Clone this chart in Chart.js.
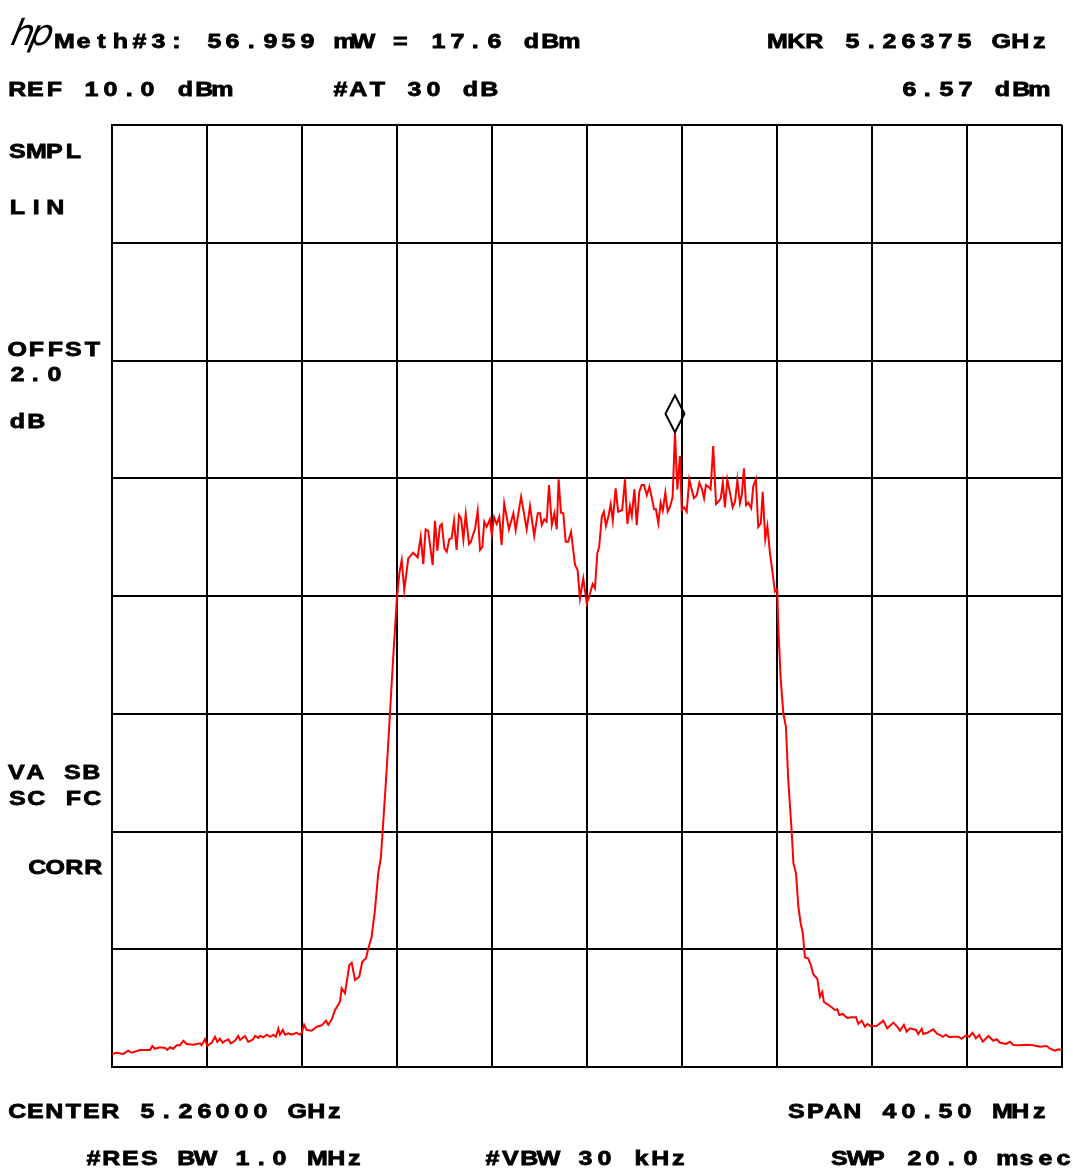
<!DOCTYPE html>
<html>
<head>
<meta charset="utf-8">
<script src="https://cdn.jsdelivr.net/npm/chart.js@4.4.1/dist/chart.umd.min.js"></script>
<style>
  body { margin: 0; background: #fff; }
  #wrap { position: relative; width: 1073px; height: 1169px; overflow: hidden; }
  #chart { position: absolute; left: 0; top: 0; }
  .lbl { position: absolute; font: bold 20px "Liberation Sans", Arial, sans-serif; line-height: 20px;
         color: #000; white-space: pre; -webkit-text-stroke: 0.8px #000; }
  .lbl span { display: inline-block; width: 18.7px; text-align: center; transform: scaleX(1.25); }
  #logo { position: absolute; left: 12px; top: 16px; font: italic 200 36px "DejaVu Sans", sans-serif;
          line-height: 34px; letter-spacing: -4px; color: #000; transform: skewX(-12deg); }
</style>
</head>
<body>
<div id="wrap">
  <canvas id="chart" width="1073" height="1169"></canvas>
  <div id="logo">hp</div>
</div>
<script>
// analyzer settings (from the screen annotations)
const refDbm = 10.0;
const centerMHz = 5260.0;
const spanMHz = 40.5;
const markerMHz = 5263.75;
const markerDbm = 6.57;
const xDivs = 10;
const yDivs = 8;

// trace: frequency offset from center (MHz) and level (mV, LIN scale)
const offsetMHz = [
  -20.25,-20.05,-19.77,-19.56,-19.41,-19.06,-18.63,-18.53,-18.42,-18.20,
  -17.99,-17.89,-17.78,-17.64,-17.49,-17.35,-17.21,-17.07,-16.78,-16.50,
  -16.43,-16.29,-16.19,-16.00,-15.86,-15.76,-15.65,-15.53,-15.43,-15.29,
  -15.19,-15.01,-14.87,-14.79,-14.58,-14.44,-14.23,-14.15,-14.01,-13.94,
  -13.80,-13.65,-13.51,-13.37,-13.26,-13.16,-13.09,-12.97,-12.87,-12.73,
  -12.59,-12.38,-12.24,-12.16,-12.06,-11.95,-11.74,-11.52,-11.31,-11.13,
  -11.03,-10.88,-10.74,-10.53,-10.46,-10.32,-10.13,-10.03,-9.89,-9.71,
  -9.58,-9.42,-9.32,-9.18,-9.04,-8.90,-8.79,-8.68,-8.54,-8.40,
  -8.26,-8.11,-8.00,-7.90,-7.79,-7.62,-7.41,-7.22,-7.09,-6.98,
  -6.88,-6.77,-6.58,-6.48,-6.38,-6.27,-6.19,-6.08,-5.98,-5.87,
  -5.77,-5.67,-5.56,-5.46,-5.37,-5.27,-5.17,-5.03,-4.95,-4.77,
  -4.66,-4.56,-4.46,-4.38,-4.28,-4.14,-4.06,-3.96,-3.85,-3.74,
  -3.64,-3.53,-3.33,-3.14,-3.04,-2.81,-2.57,-2.43,-2.25,-2.10,
  -2.00,-1.93,-1.82,-1.72,-1.62,-1.50,-1.39,-1.29,-1.21,-1.11,
  -1.01,-0.91,-0.80,-0.68,-0.51,-0.40,-0.30,-0.16,-0.01,0.09,
  0.24,0.34,0.44,0.52,0.63,0.72,0.81,0.91,1.01,1.10,
  1.22,1.33,1.50,1.62,1.72,1.83,1.91,2.02,2.12,2.23,
  2.33,2.43,2.55,2.66,2.76,2.86,2.94,3.04,3.14,3.23,
  3.34,3.44,3.54,3.65,3.75,3.85,3.96,4.04,4.14,4.25,
  4.36,4.46,4.56,4.68,4.79,4.89,4.99,5.07,5.17,5.27,
  5.38,5.50,5.60,5.70,5.79,5.88,5.98,6.10,6.21,6.31,
  6.41,6.52,6.60,6.69,6.78,6.88,7.00,7.09,7.20,7.30,
  7.41,7.49,7.60,7.69,7.80,7.92,8.01,8.11,8.16,8.26,
  8.37,8.48,8.58,8.73,8.80,8.91,9.01,9.11,9.20,9.29,
  9.43,9.54,9.65,9.82,9.93,10.03,10.10,10.36,10.57,10.67,
  10.76,10.90,11.10,11.28,11.47,11.57,11.71,11.85,11.95,12.09,
  12.35,12.63,12.80,13.06,13.23,13.34,13.51,13.63,13.77,14.03,
  14.12,14.27,14.34,14.51,14.76,14.93,15.05,15.16,15.30,15.45,
  15.62,15.83,15.97,16.16,16.30,16.44,16.58,16.72,16.87,17.11,
  17.32,17.47,17.61,17.86,18.03,18.17,18.46,18.75,19.03,19.31,
  19.60,19.74,19.95,20.09,20.25
];
const levelMv = [
  9.8,10.7,9.8,12.2,10.7,12.8,12.8,15.8,13.7,14.8,
  14.3,12.8,14.8,13.7,16.3,16.3,19.7,17.3,16.7,17.8,
  16.3,20.8,15.8,18.2,22.7,18.8,21.2,18.2,19.7,20.8,
  17.8,19.7,23.3,20.3,23.3,18.8,20.8,23.3,21.8,23.3,
  22.3,24.2,22.7,24.2,22.7,28.7,24.2,27.8,24.2,25.3,
  24.2,25.7,24.2,25.7,31.7,27.8,27.2,30.2,31.3,34.8,
  31.7,35.8,42.8,49.0,59.1,55.3,76.6,78.3,65.3,67.8,
  79.0,81.6,89.1,97.8,117.8,145.4,156.7,185.4,222.9,265.5,
  308.0,350.5,370.6,380.6,358.0,381.8,386.0,382.6,398.0,377.5,
  403.6,402.5,376.8,410.0,387.5,406.1,407.6,389.3,386.8,396.1,
  396.8,410.0,388.1,414.3,411.8,396.1,415.1,392.6,394.3,404.3,
  417.6,388.1,390.5,409.3,405.5,411.1,399.3,412.6,407.6,413.0,
  391.8,423.1,403.6,415.6,403.1,428.1,403.6,421.1,398.6,415.6,
  415.6,406.8,411.1,409.3,436.8,406.8,415.6,403.6,441.1,416.1,
  415.6,394.3,394.3,401.8,376.8,373.0,351.8,366.8,348.0,353.0,
  362.5,359.3,385.6,390.5,413.0,416.8,406.1,413.0,422.6,410.0,
  434.4,416.8,418.1,441.1,407.6,421.1,413.6,433.6,406.8,431.8,
  436.8,436.8,429.3,435.6,427.6,418.6,418.6,408.1,423.6,417.6,
  431.1,416.8,420.6,427.6,476.4,433.6,458.6,418.1,420.1,416.8,
  441.1,433.6,426.9,429.3,438.6,434.4,426.9,436.8,435.6,433.6,
  466.1,422.6,424.3,426.9,438.6,420.1,441.1,430.6,420.1,424.3,
  440.6,423.1,429.3,449.4,421.8,423.6,419.4,436.1,441.1,405.5,
  408.1,431.8,396.1,406.1,385.6,370.0,356.8,358.6,328.0,290.5,
  265.5,255.4,215.4,175.4,152.9,145.4,120.3,107.9,100.4,82.2,
  81.6,76.6,69.4,66.1,52.8,56.3,48.8,45.8,42.8,43.3,
  39.0,39.8,36.8,37.3,37.3,32.3,34.8,30.2,32.3,30.8,
  30.8,34.8,29.0,33.3,30.2,27.2,31.7,26.5,29.0,27.8,
  24.8,28.7,24.8,25.7,28.3,24.8,24.0,22.7,24.2,22.3,
  22.7,22.7,21.2,23.8,22.7,25.7,21.5,24.0,19.0,23.3,
  19.7,20.8,18.2,17.3,19.0,16.5,16.3,16.7,16.3,15.2,
  15.8,13.7,12.2,13.3,12.8
];

// dBm -> mV across 50 ohm
function dbmToMv(dbm) {
  return Math.sqrt(Math.pow(10, dbm / 10) / 1000 * 50) * 1000;
}
const refMv = dbmToMv(refDbm);

// screen annotations: text, left edge of first glyph, top of capitals
const labels = [
  ['Meth#3: 56.959 mW = 17.6 dBm', 54, 34],
  ['MKR ' + (markerMHz / 1000).toFixed(5) + ' GHz', 767, 34],
  ['REF ' + refDbm.toFixed(1) + ' dBm', 8, 82],
  ['#AT 30 dB', 333, 82],
  [markerDbm.toFixed(2) + ' dBm', 902, 82],
  ['SMPL', 9, 144],
  ['LIN', 10, 200],
  ['OFFST', 8, 342],
  ['2.0', 10, 367],
  ['dB', 10, 414],
  ['VA SB', 8, 765],
  ['SC FC', 9, 791],
  ['CORR', 28, 860],
  ['CENTER ' + (centerMHz / 1000).toFixed(5) + ' GHz', 8, 1104],
  ['SPAN ' + spanMHz.toFixed(2) + ' MHz', 788, 1104],
  ['#RES BW 1.0 MHz', 86, 1151],
  ['#VBW 30 kHz', 485, 1151],
  ['SWP 20.0 msec', 831, 1151]
];

const CELL = 18.7;
const STRETCH = 1.25;
const measure = document.createElement('canvas').getContext('2d');
measure.font = 'bold 20px "Liberation Sans", Arial, sans-serif';
const wrap = document.getElementById('wrap');
labels.forEach(([text, x, capTop]) => {
  const div = document.createElement('div');
  div.className = 'lbl';
  const w0 = measure.measureText(text[0]).width * STRETCH;
  div.style.left = (x - (CELL - w0) / 2) + 'px';
  div.style.top = (capTop - 2.6) + 'px';
  for (const ch of text) {
    const s = document.createElement('span');
    s.textContent = ch;
    div.appendChild(s);
  }
  wrap.appendChild(div);
});

function evenTicks(n) {
  return scale => {
    scale.ticks = [];
    for (let i = 0; i <= n; i++) {
      scale.ticks.push({ value: scale.min + i * (scale.max - scale.min) / n });
    }
  };
}

const markerPlugin = {
  id: 'marker',
  afterDatasetsDraw(chart) {
    const { ctx, scales: { x, y } } = chart;
    const px = x.getPixelForValue(markerMHz);
    const py = y.getPixelForValue(dbmToMv(markerDbm));
    ctx.save();
    ctx.beginPath();
    ctx.moveTo(px, py);
    ctx.lineTo(px - 9.5, py - 18.5);
    ctx.lineTo(px, py - 37);
    ctx.lineTo(px + 9.5, py - 18.5);
    ctx.closePath();
    ctx.lineWidth = 2;
    ctx.strokeStyle = '#000';
    ctx.stroke();
    ctx.restore();
  }
};

const grid = { color: '#000', lineWidth: 2, drawTicks: false };
const border = { color: '#000', width: 2 };

new Chart(document.getElementById('chart'), {
  type: 'line',
  data: {
    datasets: [{
      label: 'Trace A',
      data: offsetMHz.map((o, i) => ({ x: centerMHz + o, y: levelMv[i] })),
      borderColor: '#ff0000',
      borderWidth: 2,
      pointRadius: 0,
      tension: 0,
      fill: false
    }]
  },
  options: {
    responsive: false,
    animation: false,
    layout: { padding: { left: 112, right: 11, top: 125, bottom: 102 } },
    plugins: { legend: { display: false }, tooltip: { enabled: false } },
    scales: {
      x: {
        type: 'linear',
        min: centerMHz - spanMHz / 2,
        max: centerMHz + spanMHz / 2,
        afterBuildTicks: evenTicks(xDivs),
        ticks: { display: false },
        grid: grid,
        border: border
      },
      y: {
        min: 0,
        max: refMv,
        afterBuildTicks: evenTicks(yDivs),
        ticks: { display: false },
        grid: grid,
        border: border
      }
    }
  },
  plugins: [markerPlugin]
});
</script>
</body>
</html>
